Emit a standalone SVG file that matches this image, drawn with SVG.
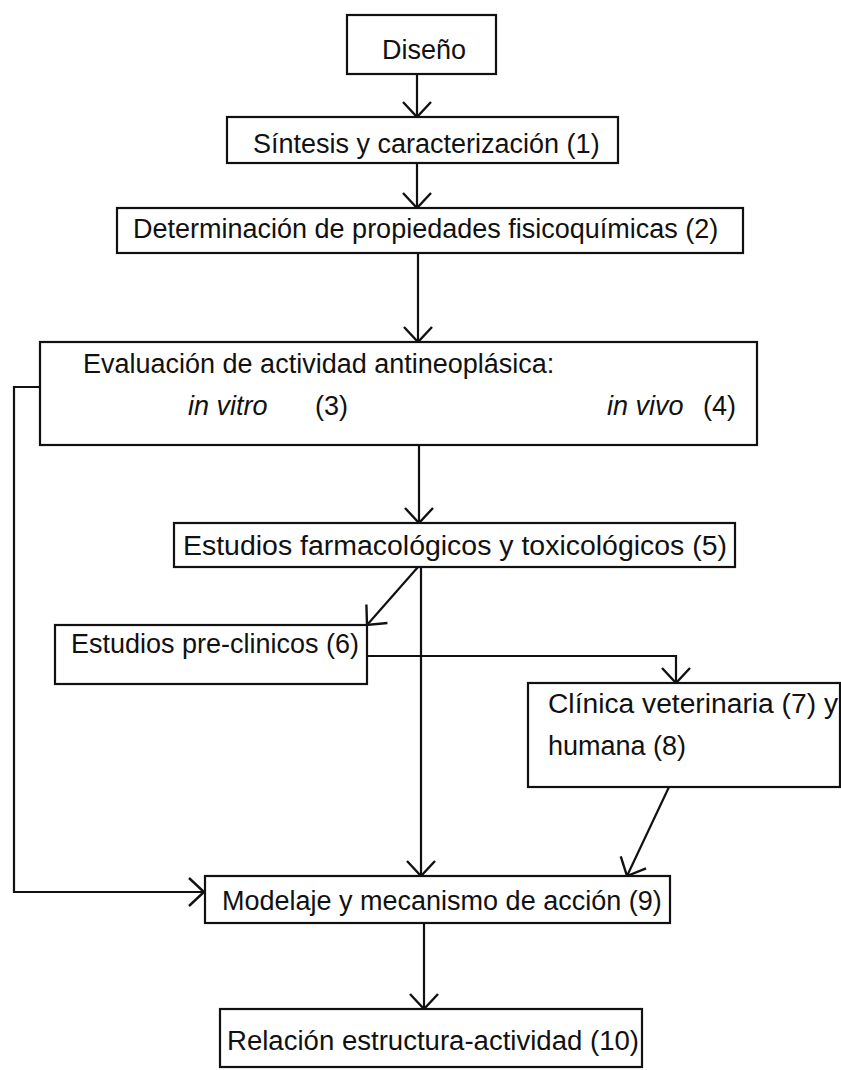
<svg xmlns="http://www.w3.org/2000/svg" width="841" height="1070" viewBox="0 0 841 1070">
<defs>
<style>
.box{fill:#fff;stroke:#111;stroke-width:2.2}
.t{font-family:"Liberation Sans",Arial,sans-serif;font-size:27px;fill:#111}
.i{font-style:italic}
.c{fill:none;stroke:#111;stroke-width:2.2}
</style>
<marker id="arr" markerUnits="userSpaceOnUse" markerWidth="40" markerHeight="40" viewBox="-20 -20 40 40" refX="0" refY="0" orient="auto" overflow="visible">
<path d="M-15,-14 L0,0 L-15,14" fill="none" stroke="#111" stroke-width="2.4"/>
</marker>
</defs>
<rect width="841" height="1070" fill="#fff"/>
<g id="connectors">
<line class="c" x1="417" y1="74" x2="417" y2="117" marker-end="url(#arr)"/>
<line class="c" x1="417" y1="163" x2="417" y2="208" marker-end="url(#arr)"/>
<line class="c" x1="418" y1="253" x2="418" y2="342" marker-end="url(#arr)"/>
<line class="c" x1="419" y1="445" x2="419" y2="523" marker-end="url(#arr)"/>
<polyline class="c" points="40,387 14,387 14,892 204,892" marker-end="url(#arr)"/>
<line class="c" x1="418" y1="567" x2="367" y2="625" marker-end="url(#arr)"/>
<line class="c" x1="421" y1="567" x2="421" y2="876" marker-end="url(#arr)"/>
<polyline class="c" points="367,656 676,656 676,683" marker-end="url(#arr)"/>
<line class="c" x1="669" y1="787" x2="627" y2="876" marker-end="url(#arr)"/>
<line class="c" x1="424" y1="923" x2="424" y2="1009" marker-end="url(#arr)"/>
</g>
<g id="n0"><rect class="box" x="347" y="15" width="149" height="59"/><text class="t" x="382" y="59">Diseño</text></g>
<g id="n1"><rect class="box" x="227" y="117" width="391" height="46"/><text class="t" x="253" y="153">Síntesis y caracterización (1)</text></g>
<g id="n2"><rect class="box" x="117" y="208" width="626" height="45"/><text class="t" x="133" y="238">Determinación de propiedades fisicoquímicas (2)</text></g>
<g id="n3"><rect class="box" x="40" y="342" width="717" height="103"/>
<text class="t" x="83" y="373">Evaluación de actividad antineoplásica:</text>
<text class="t i" x="188" y="415">in vitro</text><text class="t" x="315" y="415">(3)</text>
<text class="t i" x="607" y="415">in vivo</text><text class="t" x="703" y="415">(4)</text></g>
<g id="n5"><rect class="box" x="174" y="523" width="561" height="44"/><text class="t" x="183" y="555" textLength="544" lengthAdjust="spacingAndGlyphs">Estudios farmacológicos y toxicológicos (5)</text></g>
<g id="n6"><rect class="box" x="55" y="625" width="312" height="59"/><text class="t" x="71" y="653">Estudios pre-clinicos (6)</text></g>
<g id="n7"><rect class="box" x="528" y="683" width="312" height="104"/><text class="t" x="548" y="713" textLength="290" lengthAdjust="spacingAndGlyphs">Clínica veterinaria (7) y</text><text class="t" x="548" y="755">humana (8)</text></g>
<g id="n9"><rect class="box" x="205" y="876" width="465" height="47"/><text class="t" x="222" y="910">Modelaje y mecanismo de acción (9)</text></g>
<g id="n10"><rect class="box" x="220" y="1009" width="422" height="58"/><text class="t" x="227" y="1050" textLength="412" lengthAdjust="spacingAndGlyphs">Relación estructura-actividad (10)</text></g>
</svg>
